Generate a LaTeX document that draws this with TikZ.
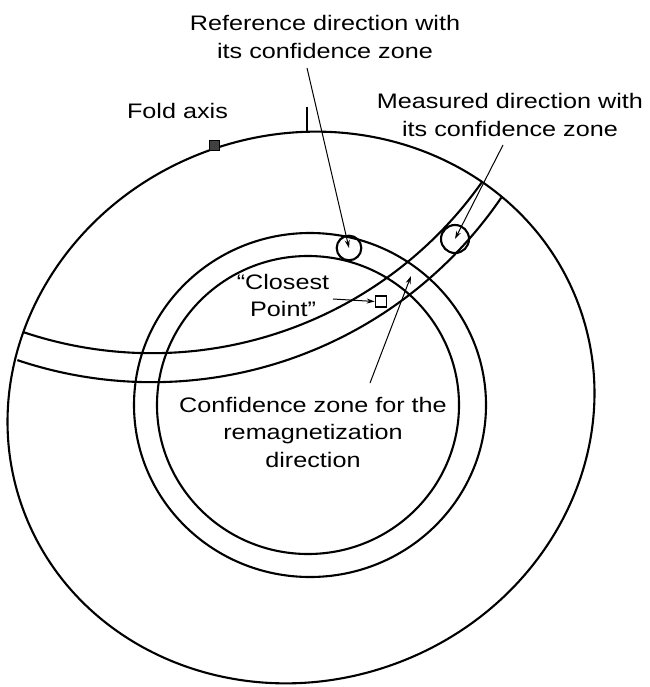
\documentclass[tikz,border=0pt]{standalone}
\usepackage{fontspec}
\setmainfont[FakeStretch=1.2]{Liberation Sans}
\usetikzlibrary{arrows.meta}

\begin{document}
\begin{tikzpicture}[x=1pt, y=-1pt, font=\fontsize{21}{27.5}\selectfont,
  heavy/.style={line width=2.1pt},
  lbl/.style={align=center, inner sep=0pt},
  ptr/.style={line width=1pt, -{Stealth[length=8pt,width=5pt]}}]
  \useasboundingbox (0,0) rectangle (649,687);

  \draw[heavy, rotate around={20:(301,407.5)}] (301,407.5) ellipse [x radius=296, y radius=273];
  \draw[heavy] (307,107) -- (307,131);
  \draw[heavy] plot[domain=35.2:108.6, samples=90] ({152+403.7*cos(\x)}, {-50.5+403.7*sin(\x)});
  \draw[heavy] plot[domain=34.3:108.6, samples=90] ({152.1+422.6*cos(\x)}, {-40.4+422.6*sin(\x)});
  \draw[heavy] (310,405) ellipse [x radius=176, y radius=172];
  \draw[heavy] (308,405) ellipse [x radius=151, y radius=149];

  \node[draw, fill=black!75, minimum size=10pt, inner sep=0pt] (fold) at (214,145) {};
  \node[draw, fill=white, line width=1.6pt, minimum size=11pt, inner sep=0pt] (closest) at (381,301.5) {};
  \node[circle, draw, heavy, minimum size=24.6pt, inner sep=0pt] (refdir) at (349,248) {};
  \node[circle, draw, heavy, minimum size=28pt, inner sep=0pt] (measdir) at (455,239) {};

  \node[lbl, anchor=base] (foldlbl) at (177.5,119) {Fold axis};
  \node[lbl, anchor=north] (reflbl) at (325,15.5) {Reference direction with\\its confidence zone};
  \node[lbl, anchor=north] (measlbl) at (510,93.5) {Measured direction with\\its confidence zone};
  \node[lbl, anchor=north] (cplbl) at (283,274) {``Closest\\Point''};
  \node[lbl, anchor=north] (zonelbl) at (313,397) {Confidence zone for the\\remagnetization\\direction};

  \coordinate (reftail) at (307,68);
  \coordinate (meastail) at (503,145);
  \coordinate (cptail) at (333,299);
  \coordinate (zonetail) at (370,383);
  \coordinate (zonetip) at (411,276);
  \draw[ptr] (reftail) -- (refdir.center);
  \draw[ptr] (meastail) -- (measdir.center);
  \draw[ptr] (cptail) -- (closest.west);
  \draw[ptr] (zonetail) -- (zonetip);
\end{tikzpicture}
\end{document}
